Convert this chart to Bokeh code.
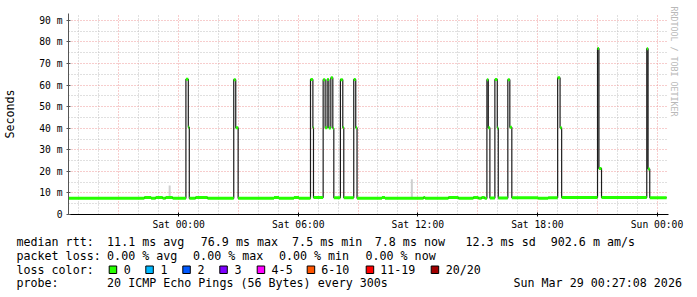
import math
from bokeh.plotting import figure
from bokeh.layouts import column
from bokeh.models import FixedTicker, Title
from bokeh.core.properties import value
from bokeh.embed import file_html
from bokeh.resources import INLINE

# ---------------- data (time in hours relative to Sat 00:00, values in ms) ----------------
med_t = [-5.5, -1.72, -1.38, -1.15, -0.80, -0.65, -0.30,
         0.365, 0.485, 0.535, 0.85, 1.45,
         2.765, 2.865, 2.985, 4.785, 5.035, 5.785, 6.035,
         6.615, 6.735, 6.765,
         7.25, 7.35, 7.45, 7.535, 7.635, 7.735, 7.785,
         8.115, 8.235, 8.285,
         8.785, 8.885, 8.95,
         10.2, 10.35, 12.285, 12.365, 13.535, 14.035, 14.785, 15.035, 15.2, 15.35,
         15.465, 15.535, 15.615,
         15.865, 15.985, 16.035,
         16.515, 16.615, 16.715,
         18.035, 18.535,
         19.015, 19.135, 19.215,
         21.015, 21.085, 21.215,
         23.485, 23.55, 23.635]
med_v = [7.5, 7.9, 7.5, 7.9, 7.5, 7.9, 7.5,
         62.7, 40.4, 7.5, 7.9, 7.5,
         62.5, 40.2, 7.5, 7.9, 7.5, 7.9, 7.5,
         62.6, 40.3, 7.9,
         62.5, 40.2, 62.6, 40.1, 63.4, 40.0, 7.8,
         62.5, 40.3, 7.8,
         62.6, 40.2, 7.5,
         7.9, 7.5, 7.9, 7.5, 7.9, 7.5, 7.9, 7.5, 7.9, 7.5,
         62.5, 40.2, 7.6,
         62.6, 40.1, 7.6,
         62.5, 40.4, 7.8,
         7.5, 7.8,
         63.4, 40.2, 7.9,
         77.0, 21.3, 7.9,
         76.9, 21.1, 7.8]
t_end = 24.48

smoke_t = [-0.45, 11.7]
smoke_top = [13.5, 16.3]
smoke_bottom = [7.5, 7.5]

x_tick_pos = [0, 6, 12, 18, 24]
x_tick_labels = ["Sat 00:00", "Sat 06:00", "Sat 12:00", "Sat 18:00", "Sun 00:00"]
y_tick_pos = [0, 10, 20, 30, 40, 50, 60, 70, 80, 90]
y_tick_labels = ["0", "10 m", "20 m", "30 m", "40 m", "50 m", "60 m", "70 m", "80 m", "90 m"]

rtt_texts = ["median rtt:", "11.1 ms avg", "76.9 ms max", "7.5 ms min", "7.8 ms now",
             "12.3 ms sd", "902.6 m am/s"]
loss_texts = ["packet loss:", "0.00 % avg", "0.00 % max", "0.00 % min", "0.00 % now"]
loss_title = "loss color:"
loss_labels = ["0", "1", "2", "3", "4-5", "6-10", "11-19", "20/20"]
loss_colors = ["#26ff00", "#00b8ff", "#0059ff", "#7e00ff", "#ff00ff", "#ff5500", "#ff0000", "#a10000"]
probe_texts = ["probe:", "20 ICMP Echo Pings (56 Bytes) every 300s", "Sun Mar 29 00:27:08 2026"]
watermark = "RRDTOOL / TOBI OETIKER"

# ---------------- layout (pixels on the 697x297 canvas) ----------------
W, H = 697, 297
MAIN_H = 232
FL, FR, FT, FB = 66, 668, 13, 215
PX_PER_H = 20.0
MONO = "DejaVu Sans Mono"
FS = "11.66px"

rtt_x = [16, 106.6, 200.3, 291.6, 374.3, 465, 550.3]
loss_x = [16, 106.6, 192.6, 278.4, 365]
box_x = [108.7, 145.3, 182.3, 219.3, 256.7, 306.7, 365.7, 430.7]
lab_x = [123.3, 160.1, 197.1, 234.1, 271.1, 320.8, 379.8, 445.3]
probe_x = [16, 106.6, 513]
line_y = [241.7, 255.0, 269.0, 282.7]
BOX = 7.5
BOX_TOP = 265.5

x0 = -5.5 - 0.5 / PX_PER_H
x1 = x0 + (FR - FL) / PX_PER_H

p = figure(width=W, height=MAIN_H, x_range=(x0, x1), y_range=(0, 93.2),
           output_backend="svg", toolbar_location=None,
           min_border_left=FL, min_border_right=W - FR, min_border_top=FT,
           min_border_bottom=MAIN_H - FB)
p.frame_align = False
p.outline_line_color = None
p.background_fill_color = "white"
p.border_fill_color = "white"

# grids
p.xgrid.ticker = FixedTicker(ticks=[h for h in range(-3, 25, 3)],
                             minor_ticks=[h for h in range(-5, 25) if h % 3 != 0])
p.ygrid.ticker = FixedTicker(ticks=[v for v in range(10, 91, 10)],
                             minor_ticks=[v for v in range(5, 90, 10)])
for g in (p.xgrid, p.ygrid):
    g.grid_line_color = "#ee9a9a"
    g.grid_line_dash = "1 2"
    g.grid_line_width = 1
    g.minor_grid_line_color = "#c0c0c0"
    g.minor_grid_line_dash = "1 2"
    g.minor_grid_line_width = 1

# axes
p.xaxis.ticker = FixedTicker(ticks=x_tick_pos)
p.xaxis.major_label_overrides = dict(zip(x_tick_pos, x_tick_labels))
p.yaxis.ticker = FixedTicker(ticks=y_tick_pos)
p.yaxis.major_label_overrides = dict(zip(y_tick_pos, y_tick_labels))
for ax in (p.xaxis, p.yaxis):
    ax.major_label_text_font = MONO
    ax.major_label_text_font_size = "9.7px"
    ax.major_label_text_color = "#000000"
    ax.minor_tick_line_color = None
    ax.major_tick_in = 2
    ax.major_tick_out = 2
p.xaxis.axis_line_color = "#000000"
p.xaxis.major_tick_line_color = "#000000"
p.xaxis.major_label_standoff = 2
p.yaxis.axis_line_color = "#555555"
p.yaxis.major_tick_line_color = "#555555"
p.yaxis.major_label_standoff = 4
p.yaxis.axis_label = "Seconds"
p.yaxis.axis_label_text_font = MONO
p.yaxis.axis_label_text_font_size = FS
p.yaxis.axis_label_text_font_style = "normal"
p.yaxis.axis_label_text_color = "#000000"
p.yaxis.axis_label_standoff = 19

# watermark on the right side
p.add_layout(Title(text=watermark, align="left", text_font=MONO, text_font_size="8.3px",
                   text_color="#b8b8b8", text_font_style="normal", standoff=0, offset=-7),
             "right")

# smoke
p.vbar(x=smoke_t, top=smoke_top, bottom=smoke_bottom, width=0.1,
       fill_color="#cfcfcf", line_color=None)

# median line (dark steps) and loss-colour overlay
p.step(x=med_t + [t_end], y=med_v + [med_v[-1]], mode="after",
       line_color="#1c1c1c", line_width=1.2)
p.segment(x0=med_t, x1=med_t[1:] + [t_end], y0=med_v, y1=med_v,
          line_color=loss_colors[0], line_width=3, line_cap="butt")

# ---------------- legend / statistics strip ----------------
LH = H - MAIN_H
q = figure(width=W, height=LH, x_range=(0, W), y_range=(H, MAIN_H),
           output_backend="svg", toolbar_location=None,
           x_axis_type=None, y_axis_type=None, min_border=0)
q.frame_align = False
q.outline_line_color = None
q.xgrid.visible = False
q.ygrid.visible = False
q.background_fill_color = "white"
q.border_fill_color = "white"

tx, ty, tt = [], [], []
for t, cx in zip(rtt_texts, rtt_x):
    tx.append(cx); ty.append(line_y[0]); tt.append(t)
for t, cx in zip(loss_texts, loss_x):
    tx.append(cx); ty.append(line_y[1]); tt.append(t)
tx.append(16); ty.append(line_y[2]); tt.append(loss_title)
for lab, lx in zip(loss_labels, lab_x):
    tx.append(lx); ty.append(line_y[2]); tt.append(lab)
for t, cx in zip(probe_texts, probe_x):
    tx.append(cx); ty.append(line_y[3]); tt.append(t)

q.text(x=tx, y=ty, text=tt, text_font=value(MONO), text_font_size=FS,
       text_align="left", text_baseline="middle", text_color="#000000")
q.quad(left=box_x, right=[b + BOX for b in box_x],
       top=[BOX_TOP] * len(box_x), bottom=[BOX_TOP + BOX] * len(box_x),
       fill_color=loss_colors, line_color="#000000", line_width=1)

layout = column(p, q, spacing=0)
open("out.html", "w").write(file_html(layout, INLINE))
